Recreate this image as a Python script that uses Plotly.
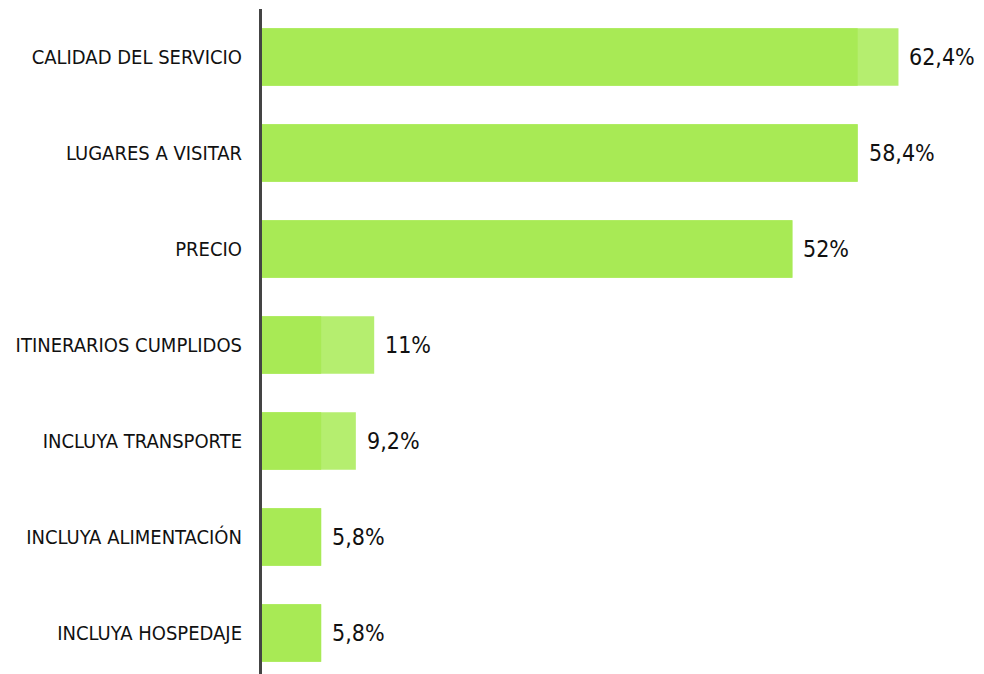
import plotly.graph_objects as go

categories = ["CALIDAD DEL SERVICIO", "LUGARES A VISITAR", "PRECIO",
              "ITINERARIOS CUMPLIDOS", "INCLUYA TRANSPORTE",
              "INCLUYA ALIMENTACIÓN", "INCLUYA HOSPEDAJE"]
values = [62.4, 58.4, 52, 11, 9.2, 5.8, 5.8]
base_values = [58.4, 58.4, 52, 5.8, 5.8, 5.8, 5.8]
labels = ["62,4%", "58,4%", "52%", "11%", "9,2%", "5,8%", "5,8%"]

FONT = "DejaVu Sans Condensed, DejaVu Sans"

fig = go.Figure()
fig.add_trace(go.Bar(y=categories, x=values, orientation="h",
                     marker=dict(color="#b5ee6f", line=dict(width=0)),
                     width=0.6, hoverinfo="skip"))
fig.add_trace(go.Bar(y=categories, x=base_values, orientation="h",
                     marker=dict(color="#a8ea55", line=dict(width=0)),
                     width=0.6, hoverinfo="skip"))

for c, v, t in zip(categories, values, labels):
    fig.add_annotation(x=v, y=c, text=t, xanchor="left", xshift=9,
                       showarrow=False,
                       font=dict(size=23, color="#111", family=FONT))

fig.update_layout(
    width=984, height=674, barmode="overlay", showlegend=False,
    plot_bgcolor="white", paper_bgcolor="white",
    margin=dict(l=254, r=0, t=1, b=1),
    xaxis=dict(range=[0, 71.57], showgrid=False, zeroline=False,
               showticklabels=False, showline=False, fixedrange=True),
    yaxis=dict(range=[6.5, -0.5], showgrid=False, zeroline=False,
               showline=True, linecolor="#444", linewidth=3,
               ticks="", ticklabelstandoff=13,
               tickfont=dict(size=20, color="#111", family=FONT)),
)
fig.write_html("out.html")
